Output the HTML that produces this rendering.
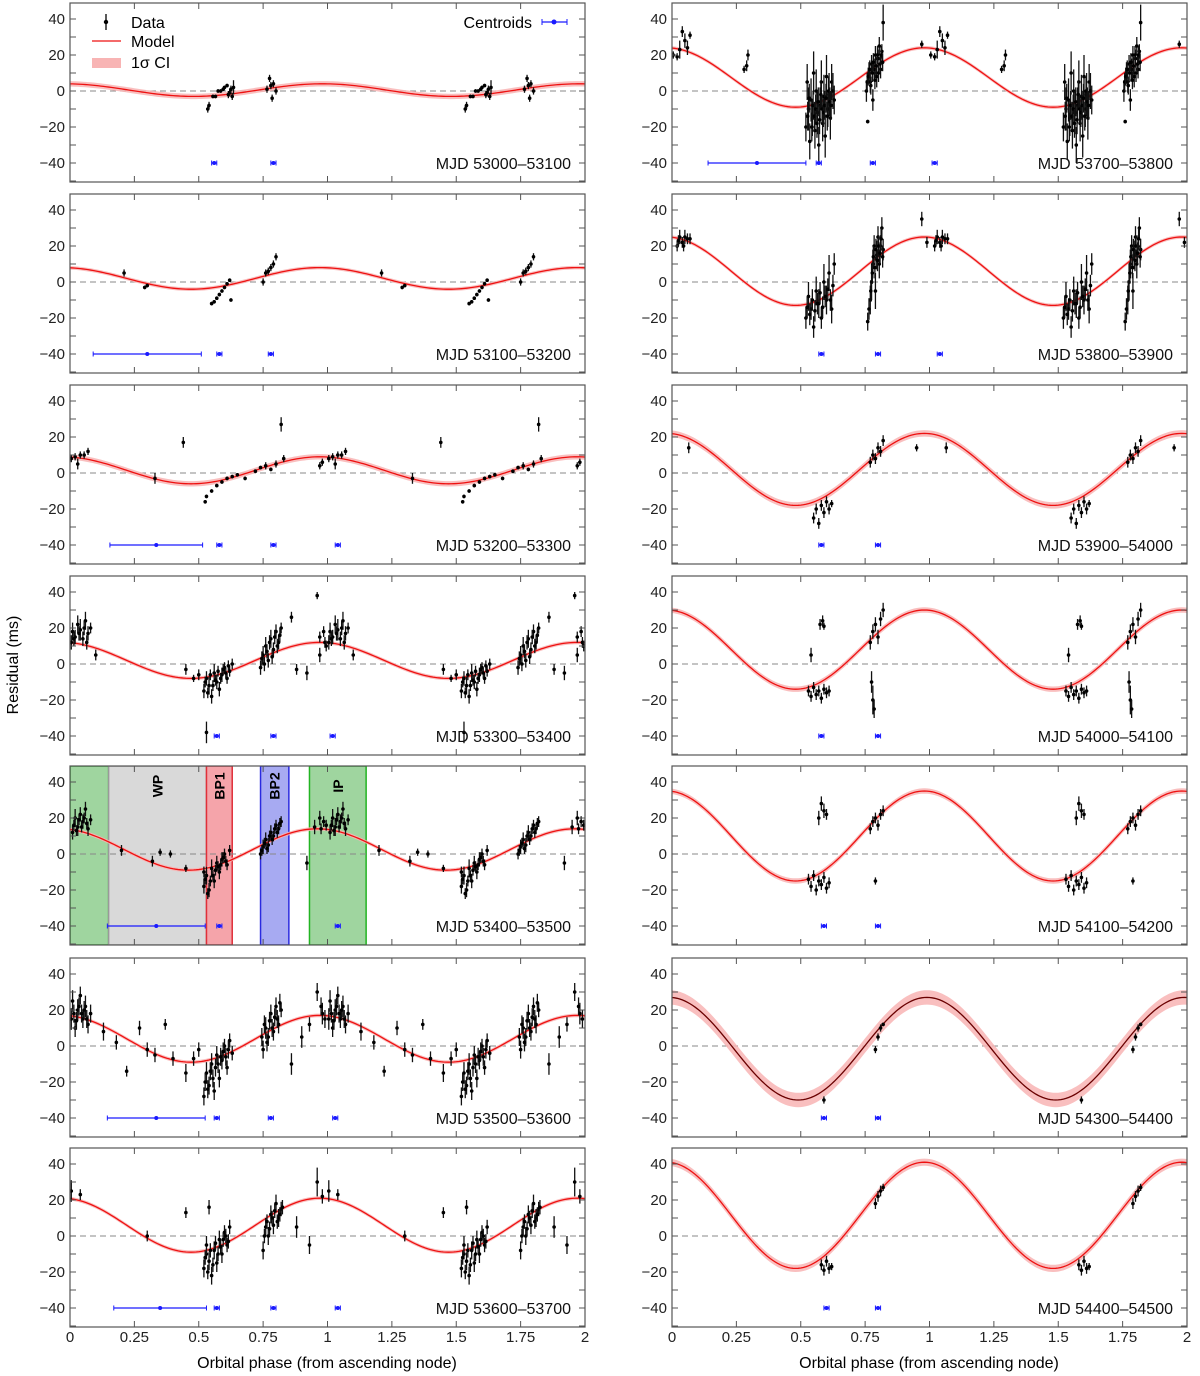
<!DOCTYPE html>
<html><head><meta charset="utf-8"><style>
body{margin:0;background:#fff}
svg{display:block;font-family:"Liberation Sans",Arial,sans-serif}
</style></head><body>
<svg id="c" width="1200" height="1376" viewBox="0 0 1200 1376" xmlns="http://www.w3.org/2000/svg"></svg>
<script>
// ---- chart data ----
const panelLabels = ["MJD 53000–53100","MJD 53100–53200","MJD 53200–53300","MJD 53300–53400","MJD 53400–53500","MJD 53500–53600","MJD 53600–53700",
 "MJD 53700–53800","MJD 53800–53900","MJD 53900–54000","MJD 54000–54100","MJD 54100–54200","MJD 54300–54400","MJD 54400–54500"];
const modelOffset = [0.5,2,1.5,2,2.5,4,6, 7.5,6,2,8,10,-1.5,11.5];
const modelAmp    = [3.5,6,7.5,10,11.5,13,15, 16.5,19,20,22,25,28.5,29.5];
const modelPeak   = [0.98,0.97,0.97,0.97,0.96,0.97,0.97, 0.98,0.98,0.98,0.98,0.98,0.99,0.98];
const ciWidth     = [1.5,1,1.5,1,1,1,1, 1,1,1.8,1.5,1.5,4,2];
const xTicks = [0,0.25,0.5,0.75,1,1.25,1.5,1.75,2];
const xTickLabels = ["0","0.25","0.5","0.75","1","1.25","1.5","1.75","2"];
const yTicks = [-40,-20,0,20,40];
const yTickLabels = ["−40","−20","0","20","40"];

// data points [phase (0-1), residual ms, error]
const data0 = [[0.535,-10,2],[0.54,-8,2],[0.555,-3,1],[0.565,-3,1],[0.575,0,1],[0.585,0,1],[0.595,1,1],[0.6,2,1],[0.61,3,1],[0.615,-2,2],[0.62,-1,2],[0.625,1,2],[0.63,-3,2],[0.635,2,4],[0.765,1,2],[0.775,7,2],[0.78,3,2],[0.785,-4,2],[0.79,4,2],[0.8,0,2]];
const data1 = [[0.21,5,2],[0.29,-3,1],[0.3,-2,1],[0.55,-12,1],[0.56,-11,1],[0.57,-9,1],[0.58,-7,1],[0.59,-5,1],[0.6,-3,1],[0.61,-1,1],[0.62,1,1],[0.625,-10,1],[0.75,0,2],[0.76,5,2],[0.77,6,2],[0.78,8,2],[0.79,10,2],[0.8,14,2]];
const data2 = [[0.005,8,2],[0.02,9,2],[0.04,10,2],[0.07,12,2],[0.33,-3,3],[0.44,17,3],[0.525,-16,1],[0.53,-13,1],[0.55,-10,1],[0.57,-7,1],[0.59,-5,1],[0.61,-3,1],[0.63,-2,1],[0.65,-1,1],[0.68,-3,1],[0.72,1,1],[0.74,3,1],[0.76,4,2],[0.78,2,1],[0.8,5,2],[0.82,27,4],[0.83,8,2],[0.97,4,2],[0.98,6,2],[0.03,5,3],[0.055,10,2]];
const data3 = [[0.005,12,4],[0.01,18,5],[0.02,15,4],[0.03,22,5],[0.04,19,6],[0.05,14,4],[0.06,24,5],[0.07,17,4],[0.08,20,3],[0.1,5,3],[0.45,-3,3],[0.48,-8,2],[0.5,-6,3],[0.53,-38,6],[0.52,-15,4],[0.53,-8,4],[0.54,-12,5],[0.55,-18,4],[0.56,-5,5],[0.57,-10,4],[0.58,-14,4],[0.59,-6,4],[0.6,-2,3],[0.61,-8,3],[0.62,-4,3],[0.63,0,3],[0.74,-2,4],[0.75,5,5],[0.76,10,5],[0.77,2,4],[0.78,14,5],[0.79,8,4],[0.8,18,4],[0.81,12,4],[0.82,20,3],[0.86,26,3],[0.88,-3,3],[0.92,-5,4],[0.96,38,2],[0.97,5,4],[0.99,12,3],
 [0.525,-10,3],[0.535,-16,3],[0.545,-6,3],[0.555,-12,3],[0.565,-9,3],[0.575,-4,3],[0.585,-8,3],[0.595,-3,3],[0.605,-5,3],[0.615,-1,3],[0.745,3,4],[0.755,0,4],[0.765,7,4],[0.775,12,4],[0.785,4,4],[0.795,15,4],[0.805,10,4],[0.815,16,4],[0.015,14,4],[0.035,17,4],[0.055,20,4],[0.065,12,4],[0.97,15,3],[0.985,18,3],[0.995,10,3]];
const data4 = [[0.01,12,4],[0.02,20,5],[0.03,15,5],[0.04,22,4],[0.05,18,4],[0.06,25,4],[0.07,14,4],[0.08,19,3],[0.2,2,3],[0.32,-4,3],[0.35,1,2],[0.39,0,2],[0.45,-8,2],[0.52,-10,3],[0.52,-18,4],[0.53,-12,5],[0.54,-20,4],[0.55,-8,5],[0.56,-15,4],[0.57,-5,4],[0.58,-10,4],[0.59,-3,4],[0.6,0,3],[0.61,-6,3],[0.62,2,3],[0.74,0,3],[0.75,4,4],[0.76,8,4],[0.77,5,4],[0.78,12,4],[0.79,10,3],[0.8,16,3],[0.81,14,3],[0.82,18,3],[0.92,-5,4],[0.95,15,4],[0.97,20,4],
 [0.525,-14,3],[0.535,-22,3],[0.545,-15,3],[0.555,-12,3],[0.565,-9,3],[0.575,-7,3],[0.585,-6,3],[0.595,-2,3],[0.605,-4,3],[0.745,2,3],[0.755,6,3],[0.765,3,3],[0.775,10,3],[0.785,8,3],[0.795,14,3],[0.805,12,3],[0.815,17,3],[0.015,16,3],[0.025,13,3],[0.035,19,3],[0.045,15,3],[0.055,20,3],[0.065,17,3],[0.975,14,3],[0.985,18,3],[0.995,16,3]];
const data5 = [[0.005,15,6],[0.01,25,6],[0.02,10,5],[0.03,20,6],[0.04,28,5],[0.05,15,5],[0.06,22,6],[0.07,12,5],[0.08,18,5],[0.13,8,5],[0.18,2,4],[0.22,-14,3],[0.27,10,4],[0.3,-2,4],[0.33,-5,4],[0.37,12,3],[0.4,-7,4],[0.45,-15,5],[0.48,-7,4],[0.5,-2,4],[0.52,-28,5],[0.53,-15,6],[0.54,-22,5],[0.55,-10,6],[0.56,-25,5],[0.57,-5,5],[0.58,-18,5],[0.59,-8,5],[0.6,0,4],[0.61,-12,4],[0.62,3,4],[0.63,-4,4],[0.75,-2,5],[0.76,10,6],[0.77,5,5],[0.78,18,5],[0.79,8,5],[0.8,22,5],[0.81,12,5],[0.82,20,4],[0.86,-10,6],[0.9,5,6],[0.93,12,4],[0.96,30,5],[0.98,18,6],
 [0.525,-20,5],[0.535,-24,5],[0.545,-14,5],[0.555,-18,5],[0.565,-12,5],[0.575,-10,5],[0.585,-6,5],[0.595,-3,5],[0.605,-6,5],[0.615,-2,5],[0.745,5,5],[0.755,12,5],[0.765,2,5],[0.775,14,5],[0.785,10,5],[0.795,16,5],[0.805,15,5],[0.815,24,5],[0.015,18,5],[0.025,14,5],[0.035,22,5],[0.045,18,5],[0.055,20,5],[0.065,15,5],[0.975,22,5],[0.99,15,5]];
const data6 = [[0.005,25,6],[0.04,23,3],[0.3,0,3],[0.45,13,3],[0.53,-10,3],[0.54,16,4],[0.52,-18,5],[0.53,-5,5],[0.54,-14,5],[0.55,-22,5],[0.56,-8,5],[0.57,-15,5],[0.58,-2,5],[0.59,-10,5],[0.6,2,4],[0.61,-5,4],[0.62,5,4],[0.75,-8,5],[0.76,5,5],[0.77,0,5],[0.78,12,5],[0.79,6,5],[0.8,18,5],[0.81,10,5],[0.82,15,4],[0.88,5,6],[0.93,-5,5],[0.96,30,8],[0.98,22,4],
 [0.525,-12,4],[0.535,-20,4],[0.545,-8,4],[0.555,-16,4],[0.565,-4,4],[0.575,-10,4],[0.585,-6,4],[0.595,-2,4],[0.605,0,4],[0.615,-3,4],[0.755,0,4],[0.765,8,4],[0.775,4,4],[0.785,10,4],[0.795,14,4],[0.805,8,4],[0.815,12,4],[0.825,16,4]];
const data7 = [[0.005,20,2],[0.02,19,2],[0.03,23,5],[0.04,33,3],[0.05,28,4],[0.06,24,4],[0.07,31,2],[0.28,12,2],[0.29,14,3],[0.295,20,3],[0.52,-20,8],[0.525,5,10],[0.53,-10,12],[0.535,-28,10],[0.54,-5,12],[0.545,-15,10],[0.55,10,12],[0.555,-22,10],[0.56,0,12],[0.565,-12,12],[0.57,-30,10],[0.575,-8,10],[0.58,5,12],[0.585,-18,10],[0.59,-3,12],[0.595,-25,12],[0.6,8,12],[0.605,-10,10],[0.61,-2,12],[0.615,-15,12],[0.62,5,10],[0.625,0,10],[0.63,-5,8],[0.755,0,6],[0.76,-17,1],[0.765,10,6],[0.77,5,6],[0.775,15,5],[0.78,-5,6],[0.785,12,6],[0.79,20,5],[0.795,8,6],[0.8,18,5],[0.805,25,5],[0.81,12,5],[0.815,22,4],[0.82,38,10],[0.97,26,2],
 [0.527,-14,8],[0.533,-4,8],[0.543,-20,8],[0.548,-8,8],[0.553,-14,8],[0.558,-10,8],[0.563,-18,8],[0.568,-6,8],[0.573,-16,8],[0.578,-2,8],[0.583,-10,8],[0.588,-12,8],[0.593,-8,8],[0.598,-4,8],[0.603,-14,8],[0.608,0,8],[0.613,-6,8],[0.618,-8,8],[0.758,5,5],[0.762,8,5],[0.768,12,5],[0.772,3,5],[0.778,10,5],[0.782,16,5],[0.788,6,5],[0.792,14,5],[0.798,20,5],[0.802,10,5],[0.808,15,5],[0.812,20,5],[0.818,16,5]];
const data8 = [[0.02,20,3],[0.03,25,4],[0.04,22,3],[0.05,25,4],[0.06,24,3],[0.52,-20,6],[0.53,-8,8],[0.54,-15,6],[0.55,-25,6],[0.56,-5,8],[0.57,-12,8],[0.58,-20,6],[0.59,0,10],[0.6,-10,8],[0.61,5,10],[0.62,-15,8],[0.63,10,6],[0.76,-22,5],[0.77,-10,8],[0.775,0,10],[0.78,10,8],[0.785,20,6],[0.79,-5,10],[0.795,15,8],[0.8,25,6],[0.805,10,8],[0.81,20,6],[0.815,30,6],[0.82,18,6],[0.97,35,4],[0.99,22,3],[0.07,24,3],
 [0.525,-14,6],[0.535,-18,6],[0.545,-10,6],[0.555,-16,6],[0.565,-12,6],[0.575,-6,6],[0.585,-14,6],[0.595,-8,6],[0.605,-4,6],[0.615,-10,6],[0.625,-2,6],[0.765,-15,6],[0.772,-5,6],[0.778,5,6],[0.782,14,6],[0.788,8,6],[0.792,18,6],[0.798,12,6],[0.802,20,6],[0.808,16,6],[0.812,24,6],[0.818,14,6],[0.025,23,3],[0.045,20,3]];
const data9 = [[0.065,14,3],[0.55,-25,3],[0.56,-20,3],[0.57,-28,3],[0.58,-18,3],[0.59,-22,3],[0.6,-16,3],[0.61,-20,3],[0.62,-17,2],[0.77,6,3],[0.78,10,3],[0.79,8,3],[0.8,14,3],[0.81,12,3],[0.82,18,3],[0.95,14,2]];
const data10 = [[0.54,5,4],[0.53,-15,3],[0.54,-18,3],[0.55,-13,3],[0.56,-17,3],[0.57,-15,3],[0.58,-19,3],[0.59,-14,3],[0.6,-16,3],[0.61,-15,3],[0.575,22,3],[0.585,24,3],[0.59,21,2],[0.77,12,4],[0.78,18,4],[0.79,22,4],[0.8,15,4],[0.81,25,4],[0.82,30,4],[0.775,-10,6],[0.78,-20,8],[0.785,-25,5]];
const data11 = [[0.53,-14,3],[0.54,-18,3],[0.55,-12,3],[0.56,-20,3],[0.57,-15,3],[0.58,-17,3],[0.59,-13,3],[0.6,-19,3],[0.61,-16,3],[0.57,20,4],[0.58,28,4],[0.59,24,4],[0.6,22,3],[0.77,14,3],[0.78,18,3],[0.79,20,3],[0.8,16,3],[0.81,22,3],[0.82,24,3],[0.79,-15,2]];
const data12 = [[0.59,-30,2],[0.79,-2,2],[0.8,5,2],[0.81,10,2],[0.82,12,1]];
const data13 = [[0.58,-16,3],[0.59,-19,3],[0.6,-14,3],[0.61,-18,3],[0.62,-17,2],[0.79,18,3],[0.8,22,3],[0.81,25,3],[0.82,27,2]];
const allData = [data0,data1,data2,data3,data4,data5,data6,data7,data8,data9,data10,data11,data12,data13];
// centroids [phase, half-width]
const centroids = [
 [[0.56,0.01],[0.79,0.01]],
 [[0.30,0.21],[0.58,0.01],[0.78,0.01]],
 [[0.335,0.18],[0.58,0.01],[0.79,0.01],[1.04,0.01]],
 [[0.57,0.01],[0.79,0.01],[1.02,0.01]],
 [[0.335,0.19],[0.58,0.01],[1.04,0.01]],
 [[0.335,0.19],[0.57,0.01],[0.78,0.01],[1.03,0.01]],
 [[0.35,0.18],[0.57,0.01],[0.79,0.01],[1.04,0.01]],
 [[0.33,0.19],[0.57,0.01],[0.78,0.01],[1.02,0.01]],
 [[0.58,0.01],[0.80,0.01],[1.04,0.01]],
 [[0.58,0.01],[0.80,0.01]],
 [[0.58,0.01],[0.80,0.01]],
 [[0.59,0.01],[0.80,0.01]],
 [[0.59,0.01],[0.80,0.01]],
 [[0.60,0.01],[0.80,0.01]]
];
// shaded phase regions (panel MJD 53400)
const regionStart = [0,0.15,0.53,0.74,0.93];
const regionEnd   = [0.15,0.53,0.63,0.85,1.15];
const regionLabels= ["","WP","BP1","BP2","IP"];
const regionFill  = ["#9fd59f","#d9d9d9","#f5a4aa","#a7aaf2","#9fd59f"];
const regionStroke= ["#22b422","#999","#e0303a","#2a2ae0","#22b422"];

// ---- drawing ----
const NS="http://www.w3.org/2000/svg";
const svg=document.getElementById('c');
function mk(tag,attrs,parent){const e=document.createElementNS(NS,tag);for(const k in attrs)e.setAttribute(k,attrs[k]);(parent||svg).appendChild(e);return e;}
const colX=[70,672], W=515, zeros=[91,282,473,664,854,1046,1236], SC=1.8;
function model(i,p){return modelOffset[i]+modelAmp[i]*Math.cos(2*Math.PI*(p-modelPeak[i]));}

for(let i=0;i<14;i++){
  const col=i<7?0:1,row=i%7;
  const x0=colX[col],z=zeros[row],top=z-88,bot=z+91;
  const px=p=>x0+p*W/2, py=v=>z-v*SC;
  const g=mk('g',{});
  
  
  const cp=mk('clipPath',{id:'cp'+i},g);mk('rect',{x:x0,y:top,width:W,height:bot-top},cp);
  const inner=mk('g',{'clip-path':'url(#cp'+i+')'},g);
  if(i===4){
    for(let r=0;r<regionStart.length;r++){
      const rc=mk('rect',{x:px(regionStart[r]),y:top,width:px(regionEnd[r])-px(regionStart[r]),height:bot-top,fill:regionFill[r],stroke:regionStroke[r],'stroke-width':1.5},inner);
      
      
      if(regionLabels[r]){const cx=(px(regionStart[r])+px(regionEnd[r]))/2;
        const t=mk('text',{x:cx,y:top+20,'font-size':14,'font-weight':'bold','text-anchor':'middle',transform:`rotate(-90 ${cx} ${top+20})`,'dominant-baseline':'central'},inner);
        t.textContent=regionLabels[r];
        
        }
    }
  }
  mk('line',{x1:x0,x2:x0+W,y1:z,y2:z,stroke:'#888','stroke-dasharray':'6,4','stroke-width':1},inner);
  let up=[],lo=[],ln=[];
  for(let k=0;k<=200;k++){const p=2*k/200,m=model(i,p);up.push(px(p)+','+py(m+ciWidth[i]));lo.unshift(px(p)+','+py(m-ciWidth[i]));ln.push(px(p)+','+py(m));}
  const band=mk('polygon',{points:up.concat(lo).join(' '),fill:'#f8b4b4',opacity:0.85},inner);
  
  const ml=mk('polyline',{points:ln.join(' '),fill:'none',stroke:i===12?'#6a0000':'#ee1111','stroke-width':1.3},inner);
  
  const dg=mk('g',{},inner);
  for(const d of allData[i]){for(const off of [0,1]){const p=d[0]+off;if(p<0||p>2)continue;
    mk('line',{x1:px(p),x2:px(p),y1:py(d[1]+d[2]),y2:py(d[1]-d[2]),stroke:'#111','stroke-width':1.3},dg);
    mk('circle',{cx:px(p),cy:py(d[1]),r:1.8,fill:'#000'},dg);}}
  const cg=mk('g',{},inner);
  for(const c of centroids[i]){const y=py(-40);
    mk('line',{x1:px(c[0]-c[1]),x2:px(c[0]+c[1]),y1:y,y2:y,stroke:'#1a1aff','stroke-width':1.3},cg);
    mk('line',{x1:px(c[0]-c[1]),x2:px(c[0]-c[1]),y1:y-2.5,y2:y+2.5,stroke:'#1a1aff','stroke-width':1},cg);
    mk('line',{x1:px(c[0]+c[1]),x2:px(c[0]+c[1]),y1:y-2.5,y2:y+2.5,stroke:'#1a1aff','stroke-width':1},cg);
    mk('circle',{cx:px(c[0]),cy:y,r:2,fill:'#1a1aff'},cg);}
  mk('rect',{x:x0,y:top,width:W,height:bot-top,fill:'none',stroke:'#555','stroke-width':1.2},g);
  for(const t of xTicks){mk('line',{x1:px(t),x2:px(t),y1:top,y2:top+6,stroke:'#555'},g);mk('line',{x1:px(t),x2:px(t),y1:bot,y2:bot-6,stroke:'#555'},g);}
  for(let v=-50;v<=40;v+=10){const y=py(v);if(y<top||y>bot)continue;mk('line',{x1:x0,x2:x0+6,y1:y,y2:y,stroke:'#555'},g);mk('line',{x1:x0+W,x2:x0+W-6,y1:y,y2:y,stroke:'#555'},g);}
  yTicks.forEach((v,k)=>{const t=mk('text',{x:x0-5,y:py(v)+5,'font-size':15,'text-anchor':'end',fill:'#222'},g);t.textContent=yTickLabels[k];
    });
  if(row===6){xTicks.forEach((v,k)=>{const t=mk('text',{x:px(v),y:bot+15,'font-size':15,'text-anchor':'middle',fill:'#222'},g);t.textContent=xTickLabels[k];
    });}
  const lb=mk('text',{x:x0+W-14,y:py(-40)+6,'font-size':16,'text-anchor':'end',fill:'#111'},g);lb.textContent=panelLabels[i];
  
}
const lg=mk('g',{});
mk('line',{x1:106,x2:106,y1:14,y2:30,stroke:'#000','stroke-width':1.3},lg);mk('circle',{cx:106,cy:22,r:2.2,fill:'#000'},lg);
let t=mk('text',{x:131,y:28,'font-size':16},lg);t.textContent='Data';
mk('line',{x1:92,x2:121,y1:41,y2:41,stroke:'#ee1111','stroke-width':1.3},lg);
t=mk('text',{x:131,y:47,'font-size':16},lg);t.textContent='Model';
mk('rect',{x:92,y:58,width:29,height:10,fill:'#f8b4b4'},lg);
t=mk('text',{x:131,y:68,'font-size':16},lg);t.textContent='1σ CI';
t=mk('text',{x:532,y:28,'font-size':16,'text-anchor':'end'},lg);t.textContent='Centroids';
mk('line',{x1:542,x2:567,y1:22,y2:22,stroke:'#1a1aff','stroke-width':1.3},lg);
mk('line',{x1:542,x2:542,y1:19,y2:25,stroke:'#1a1aff'},lg);mk('line',{x1:567,x2:567,y1:19,y2:25,stroke:'#1a1aff'},lg);
mk('circle',{cx:554,cy:22,r:2.5,fill:'#1a1aff'},lg);
t=mk('text',{x:18,y:665,'font-size':16,'text-anchor':'middle',transform:'rotate(-90 18 665)'});t.textContent='Residual (ms)';

t=mk('text',{x:327,y:1368,'font-size':16,'text-anchor':'middle'});t.textContent='Orbital phase (from ascending node)';

t=mk('text',{x:929,y:1368,'font-size':16,'text-anchor':'middle'});t.textContent='Orbital phase (from ascending node)';

</script>
</body></html>
